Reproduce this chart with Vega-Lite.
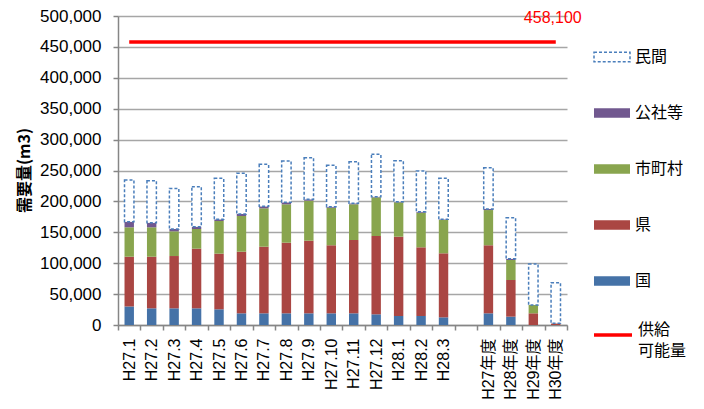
{
  "$schema": "https://vega.github.io/schema/vega-lite/v6.json",
  "width": 449,
  "height": 309,
  "autosize": "none",
  "padding": {"left": 118, "top": 16, "right": 137, "bottom": 84},
  "background": "white",
  "config": {
    "font": "Liberation Sans, Noto Sans CJK JP",
    "view": {"stroke": null},
    "style": {"guide-label": {"lineHeight": 21}}
  },
  "datasets": {
    "demand": [
      {"period": "H27.1", "国": 30000, "県": 80500, "市町村": 47600, "公社等": 9000, "民間": 67500},
      {"period": "H27.2", "国": 27000, "県": 83500, "市町村": 47600, "公社等": 7400, "民間": 68000},
      {"period": "H27.3", "国": 27000, "県": 84600, "市町村": 40000, "公社等": 3700, "民間": 65700},
      {"period": "H27.4", "国": 27000, "県": 96500, "市町村": 31800, "公社等": 3700, "民間": 64800},
      {"period": "H27.5", "国": 25400, "県": 90000, "市町村": 52900, "公社等": 2700, "民間": 66300},
      {"period": "H27.6", "国": 18900, "県": 99700, "市町村": 57800, "公社等": 3200, "民間": 65800},
      {"period": "H27.7", "国": 18900, "県": 107800, "市町村": 62100, "公社等": 3200, "民間": 68000},
      {"period": "H27.8", "国": 18900, "県": 114300, "市町村": 62100, "公社等": 3200, "民間": 66900},
      {"period": "H27.9", "国": 18900, "県": 117500, "市町村": 64700, "公社等": 2300, "民間": 67300},
      {"period": "H27.10", "国": 18900, "県": 110100, "市町村": 60800, "公社等": 1600, "民間": 67000},
      {"period": "H27.11", "国": 18900, "県": 118600, "市町村": 57800, "公社等": 1600, "民間": 67300},
      {"period": "H27.12", "国": 17300, "県": 126700, "市町村": 62600, "公社等": 1000, "民間": 68600},
      {"period": "H28.1", "国": 14600, "県": 128300, "市町村": 55600, "公社等": 1000, "民間": 66400},
      {"period": "H28.2", "国": 14600, "県": 111100, "市町村": 56000, "公社等": 1600, "民間": 65900},
      {"period": "H28.3", "国": 12400, "県": 103600, "市町村": 53900, "公社等": 1100, "民間": 66300},
      {"period": "H27年度", "国": 18900, "県": 110100, "市町村": 57000, "公社等": 1700, "民間": 66800},
      {"period": "H28年度", "国": 13500, "県": 59300, "市町村": 32400, "公社等": 2100, "民間": 66300},
      {"period": "H29年度", "国": 0, "県": 18900, "市町村": 13500, "公社等": 0, "民間": 66300},
      {"period": "H30年度", "国": 0, "県": 2700, "市町村": 0, "公社等": 0, "民間": 65700}
    ],
    "seriesInfo": [
      {"series": "国", "stackRank": 1},
      {"series": "県", "stackRank": 2},
      {"series": "市町村", "stackRank": 3},
      {"series": "公社等", "stackRank": 4},
      {"series": "民間", "stackRank": 5}
    ],
    "supply": [
      {"label": "供給可能量", "from": "H27.1", "to": "H30年度", "capacity": 458100}
    ]
  },
  "layer": [
    {
      "data": {"name": "demand"},
      "transform": [
        {"fold": ["国", "県", "市町村", "公社等", "民間"], "as": ["series", "volume"]},
        {"lookup": "series", "from": {"data": {"name": "seriesInfo"}, "key": "series", "fields": ["stackRank"]}}
      ],
      "mark": {"type": "bar", "width": {"band": 0.42}, "strokeWidth": 1.5},
      "encoding": {
        "x": {
          "field": "period",
          "type": "nominal",
          "title": null,
          "scale": {
            "domain": ["H27.1", "H27.2", "H27.3", "H27.4", "H27.5", "H27.6", "H27.7", "H27.8", "H27.9", "H27.10", "H27.11", "H27.12", "H28.1", "H28.2", "H28.3", " ", "H27年度", "H28年度", "H29年度", "H30年度"],
            "paddingInner": 0,
            "paddingOuter": 0
          },
          "axis": {
            "labelAngle": -90,
            "labelAlign": "right",
            "labelBaseline": "middle",
            "labelFontSize": 16,
            "labelColor": "#000000",
            "labelPadding": 8,
            "tickSize": 5,
            "tickBand": "extent",
            "tickColor": "#868686",
            "tickWidth": 1.5,
            "domainColor": "#868686",
            "domainWidth": 1.5,
            "grid": false
          }
        },
        "y": {
          "field": "volume",
          "type": "quantitative",
          "stack": "zero",
          "scale": {"domain": [0, 500000], "nice": false},
          "axis": {
            "title": "需要量(m3)",
            "titleFont": "Noto Sans CJK JP",
            "titleFontSize": 16,
            "titleFontWeight": "bold",
            "titleColor": "#000000",
            "titleAngle": -90,
            "titleX": -94,
            "titleY": 154,
            "titleAlign": "center",
            "titleBaseline": "middle",
            "tickCount": 10,
            "labelExpr": "format(datum.value, ',')",
            "labelOverlap": false,
            "labelFontSize": 17,
            "labelColor": "#000000",
            "labelPadding": 12,
            "tickSize": 5,
            "tickColor": "#868686",
            "tickWidth": 1.5,
            "domainColor": "#868686",
            "domainWidth": 1.5,
            "grid": true,
            "gridColor": "#a6a6a6",
            "gridWidth": 1.5
          }
        },
        "fill": {
          "field": "series",
          "type": "nominal",
          "scale": {
            "domain": ["民間", "公社等", "市町村", "県", "国"],
            "range": ["#ffffff", "#71588F", "#89A54E", "#AA4643", "#4572A7"]
          },
          "legend": {
            "title": null,
            "orient": "none",
            "legendX": 475,
            "legendY": 22,
            "symbolType": "M-1,-0.27H1V0.27H-1Z",
            "symbolSize": 1296,
            "symbolStrokeWidth": 1.5,
            "labelFont": "Noto Sans CJK JP",
            "labelFontSize": 16,
            "labelColor": "#000000",
            "labelOffset": 4,
            "rowPadding": 29
          }
        },
        "stroke": {
          "field": "series",
          "type": "nominal",
          "scale": {
            "domain": ["民間", "公社等", "市町村", "県", "国"],
            "range": ["#4a7ebb", "transparent", "transparent", "transparent", "transparent"]
          },
          "legend": {
            "title": null,
            "orient": "none",
            "legendX": 475,
            "legendY": 22,
            "symbolType": "M-1,-0.27H1V0.27H-1Z",
            "symbolSize": 1296,
            "symbolStrokeWidth": 1.5,
            "labelFont": "Noto Sans CJK JP",
            "labelFontSize": 16,
            "labelColor": "#000000",
            "labelOffset": 4,
            "rowPadding": 29
          }
        },
        "strokeDash": {
          "field": "series",
          "type": "nominal",
          "scale": {
            "domain": ["民間", "公社等", "市町村", "県", "国"],
            "range": [[3, 2], [1, 0], [1, 0], [1, 0], [1, 0]]
          },
          "legend": {
            "title": null,
            "orient": "none",
            "legendX": 475,
            "legendY": 22,
            "symbolType": "M-1,-0.27H1V0.27H-1Z",
            "symbolSize": 1296,
            "symbolStrokeWidth": 1.5,
            "labelFont": "Noto Sans CJK JP",
            "labelFontSize": 16,
            "labelColor": "#000000",
            "labelOffset": 4,
            "rowPadding": 29
          }
        },
        "order": {"field": "stackRank", "type": "quantitative"}
      }
    },
    {
      "data": {"name": "supply"},
      "mark": {"type": "rule", "strokeWidth": 3.5},
      "encoding": {
        "x": {"field": "from", "type": "nominal", "title": null},
        "x2": {"field": "to"},
        "y": {"field": "capacity", "type": "quantitative"},
        "color": {
          "field": "label",
          "type": "nominal",
          "scale": {"domain": ["供給可能量"], "range": ["#ff0000"]},
          "legend": {
            "title": null,
            "orient": "none",
            "legendX": 474,
            "legendY": 298,
            "symbolType": "stroke",
            "symbolSize": 1444,
            "symbolStrokeWidth": 3.5,
            "labelFont": "Noto Sans CJK JP",
            "labelFontSize": 16,
            "labelColor": "#000000",
            "labelOffset": 4,
            "labelBaseline": "alphabetic",
            "labelExpr": "['供給', '可能量']"
          }
        }
      }
    },
    {
      "data": {"name": "supply"},
      "mark": {"type": "text", "color": "#ff0000", "fontSize": 16, "align": "center", "baseline": "middle", "dx": -3, "dy": -24},
      "encoding": {
        "x": {"field": "to", "type": "nominal", "title": null},
        "y": {"field": "capacity", "type": "quantitative"},
        "text": {"field": "capacity", "type": "quantitative", "format": ","}
      }
    }
  ]
}
